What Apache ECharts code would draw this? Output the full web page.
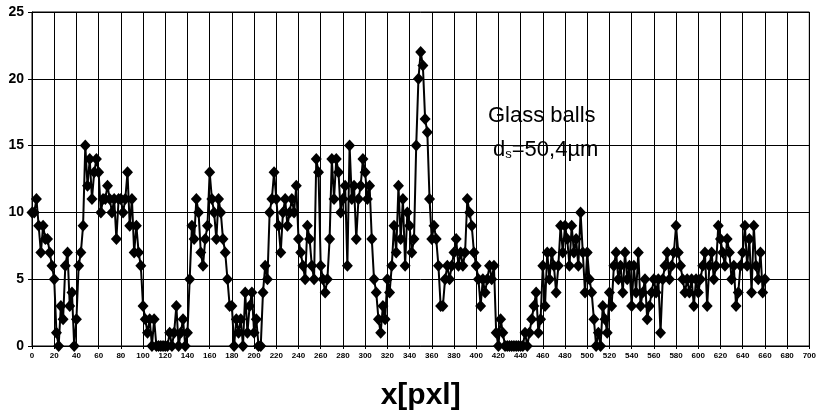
<!DOCTYPE html>
<html>
<head>
<meta charset="utf-8">
<script src="https://cdn.jsdelivr.net/npm/echarts@6/dist/echarts.min.js"></script>
<style>
html,body{margin:0;padding:0;background:#fff;}
#chart{width:819px;height:416px;}
</style>
</head>
<body>
<div id="chart"></div>
<script>
// x positions (pixels), step 2, 0..660
const xStart = 0, xStep = 2;
// y values, one per x position
const yBlock0  = [10,10,11,9,7,9,8,8,7,6];          // 0-18
const yBlock1  = [5,1,0,3,2,6,7,3,4,0];             // 20-38
const yBlock2  = [2,6,7,9,15,12,14,11,13,14];       // 40-58
const yBlock3  = [13,10,11,11,12,11,10,11,8,11];    // 60-78
const yBlock4  = [11,10,11,13,9,11,7,9,7,6];        // 80-98
const yBlock5  = [3,2,1,2,0,2,0,0,0,0];             // 100-118
const yBlock6  = [0,0,1,0,1,3,0,1,2,0];             // 120-138
const yBlock7  = [1,5,9,8,11,10,7,6,8,9];           // 140-158
const yBlock8  = [13,11,10,8,11,10,8,7,5,3];        // 160-178
const yBlock9  = [3,0,2,1,2,0,4,1,3,4];             // 180-198
const yBlock10 = [1,2,0,0,4,6,5,10,11,13];          // 200-218
const yBlock11 = [11,9,7,10,11,9,10,11,10,12];      // 220-238
const yBlock12 = [8,7,6,5,9,8,6,5,14,13];           // 240-258
const yBlock13 = [6,5,4,5,8,14,11,14,13,10];        // 260-278
const yBlock14 = [11,12,6,15,11,12,8,11,12,14];     // 280-298
const yBlock15 = [13,11,12,8,5,4,2,1,3,2];          // 300-318
const yBlock16 = [5,4,6,9,7,12,8,11,6,10];          // 320-338
const yBlock17 = [9,7,8,15,20,22,21,17,16,11];      // 340-358
const yBlock18 = [8,9,8,6,3,3,5,6,5,6];             // 360-378
const yBlock19 = [7,8,6,7,6,7,11,10,9,7];           // 380-398
const yBlock20 = [6,5,3,5,4,5,6,5,6,1];             // 400-418
const yBlock21 = [0,2,1,0,0,0,0,0,0,0];             // 420-438
const yBlock22 = [0,0,1,0,1,2,3,4,1,2];             // 440-458
const yBlock23 = [6,3,7,5,7,6,4,6,9,7];             // 460-478
const yBlock24 = [9,8,6,9,7,8,6,10,7,4];            // 480-498
const yBlock25 = [7,5,4,2,0,1,0,3,2,1];             // 500-518
const yBlock26 = [4,3,6,7,5,6,4,7,5,6];             // 520-538
const yBlock27 = [3,6,4,7,3,4,5,2,3,4];             // 540-558
const yBlock28 = [5,4,5,1,5,6,7,5,6,7];             // 560-578
const yBlock29 = [9,7,6,5,4,5,4,5,3,5];             // 580-598
const yBlock30 = [4,5,6,7,3,6,7,5,6,9];             // 600-618
const yBlock31 = [8,7,6,8,7,5,6,3,4,6];             // 620-638
const yBlock32 = [7,9,6,8,4,9,6,5,7,4,5];           // 640-660

const yValues = [].concat(yBlock0,yBlock1,yBlock2,yBlock3,yBlock4,yBlock5,yBlock6,yBlock7,
  yBlock8,yBlock9,yBlock10,yBlock11,yBlock12,yBlock13,yBlock14,yBlock15,yBlock16,yBlock17,
  yBlock18,yBlock19,yBlock20,yBlock21,yBlock22,yBlock23,yBlock24,yBlock25,yBlock26,yBlock27,
  yBlock28,yBlock29,yBlock30,yBlock31,yBlock32);
const xValues = yValues.map((_, i) => xStart + i * xStep);

const xTitle = 'x[pxl]';
const noteLine1 = 'Glass balls';

const data = xValues.map((x, i) => [x, yValues[i]]);

const chart = echarts.init(document.getElementById('chart'), null, {renderer: 'canvas'});
chart.setOption({
  animation: false,
  backgroundColor: '#fff',
  grid: {left: 32, right: 8, top: 12, bottom: 70, show: true, borderColor: '#000', borderWidth: 1},
  xAxis: {
    type: 'value', min: 0, max: 700, interval: 20,
    axisLine: {show: true, lineStyle: {color: '#000', width: 1}},
    axisTick: {show: true, length: 3, lineStyle: {color: '#000'}},
    axisLabel: {color: '#000', fontSize: 8, fontWeight: 'bold', fontFamily: 'Arial, Liberation Sans', margin: 6},
    splitLine: {show: true, lineStyle: {color: '#000', width: 1}},
    name: xTitle, nameLocation: 'middle', nameGap: 35,
    nameTextStyle: {color: '#000', fontSize: 30, fontWeight: 'bold', fontFamily: 'Arial, Liberation Sans'}
  },
  yAxis: {
    type: 'value', min: 0, max: 25, interval: 5,
    axisLine: {show: true, lineStyle: {color: '#000', width: 1}},
    axisTick: {show: true, length: 4, lineStyle: {color: '#000'}},
    axisLabel: {color: '#000', fontSize: 14, fontWeight: 'bold', fontFamily: 'Arial, Liberation Sans', margin: 8},
    splitLine: {show: true, lineStyle: {color: '#000', width: 1}}
  },
  graphic: [{
    type: 'group', left: 482, top: 96, z: 10,
    children: [
      {type: 'rect', shape: {x: 0, y: 0, width: 126, height: 76}, style: {fill: '#fff'}},
      {type: 'text', x: 6, y: 9, style: {text: noteLine1, fill: '#000', font: '22px Arial, "Liberation Sans"'}},
      {type: 'text', x: 11, y: 42, style: {
        text: '{a|d}{b|s}{a|=50,4\u00b5m}',
        rich: {
          a: {fontSize: 22, fontFamily: 'Arial, Liberation Sans', color: '#000'},
          b: {fontSize: 13, fontFamily: 'Arial, Liberation Sans', color: '#000', padding: [10, 0, 0, 0]}
        }
      }}
    ]
  }],
  series: [{
    type: 'line',
    data: data,
    symbol: 'diamond',
    symbolSize: [11, 12],
    showAllSymbol: true,
    itemStyle: {color: '#000'},
    lineStyle: {color: '#000', width: 2},
    z: 5
  }]
});
</script>
</body>
</html>
